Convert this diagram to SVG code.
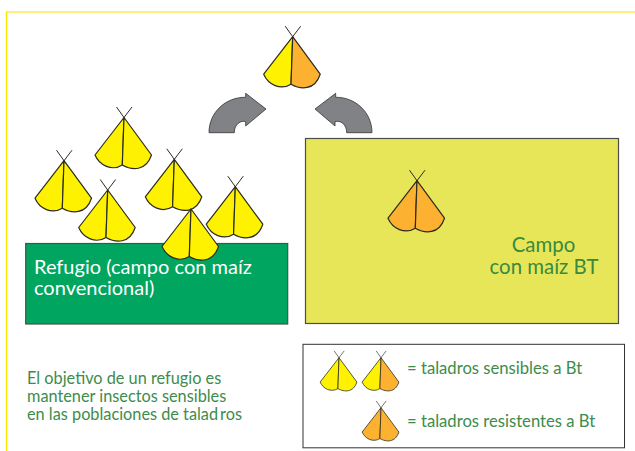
<svg xmlns="http://www.w3.org/2000/svg" width="635" height="451" viewBox="0 0 635 451">
<style>
.t{font-family:"Lato","Open Sans","Liberation Sans",sans-serif;fill:#3d8c4b}
.y{fill:#fff200}.o{fill:#fdb131}
.w{stroke:#2b2b20;stroke-width:1.2;stroke-linejoin:round}
.a{fill:none;stroke:#2b2b20;stroke-width:1}
.arr{fill:#808285;stroke:#333;stroke-width:.8;stroke-linejoin:miter}
.box{stroke:#4d4d4d;stroke-width:1.2}
</style>
<defs>
<path id="lw" d="M0,0L-29,37.500C-24.500,48 -12,54 -1.700,47.500Z"/>
<path id="rw" d="M0,0L27.500,37.500C22,54 8,53 -1.700,47.500Z"/>
<path id="ant" d="M0,0L-7.500,-10.500M0,0L8,-10.500"/>
</defs>
<rect width="635" height="451" fill="#fff"/>
<path d="M6,12H635" fill="none" stroke="#ffe94d" stroke-width="1.5"/>
<path d="M6.500,12V451" fill="none" stroke="#ffe600" stroke-width="1.500"/>
<g id="refugio"><rect class="box" x="25.700" y="243.500" width="262" height="80.500" fill="#00a65f"/>
<text class="t" style="fill:#fff" font-size="20"><tspan x="34" y="273.500">Refugio (campo con maíz</tspan><tspan x="34" y="295">convencional)</tspan></text></g>
<g id="campo-bt"><rect class="box" x="305.500" y="138.500" width="313" height="185" fill="#e7e659"/>
<text class="t" style="fill:#3a8a3e" font-size="20.400" text-anchor="middle"><tspan x="543.500" y="252">Campo</tspan><tspan x="544" y="274">con maíz BT</tspan></text></g>
<g id="connectors">
<path class="arr" d="M209,132.700C209,112 226,97 245.700,97.300V93.300L266,109L245.700,126V121.700C241,120 234.300,124 234.300,132.700Z"/>
<path class="arr" d="M372,132.700C372,112 355,97 335.700,97.300V93.300L315,109L335,126V121.700C340,120 346.700,124 346.700,132.700Z"/>
</g>
<g id="moth-top" transform="translate(292.700,36.700)"><use href="#lw" class="y w"/><use href="#rw" class="o w"/><use href="#ant" class="a"/></g>
<g id="moth-1" transform="translate(124,117.500)"><use href="#lw" class="y w"/><use href="#rw" class="y w"/><use href="#ant" class="a"/></g>
<g id="moth-2" transform="translate(64,160.700)"><use href="#lw" class="y w"/><use href="#rw" class="y w"/><use href="#ant" class="a"/></g>
<g id="moth-3" transform="translate(107.700,190)"><use href="#lw" class="y w"/><use href="#rw" class="y w"/><use href="#ant" class="a"/></g>
<g id="moth-4" transform="translate(174.300,159.300)"><use href="#lw" class="y w"/><use href="#rw" class="y w"/><use href="#ant" class="a"/></g>
<g id="moth-5" transform="translate(235.300,186.700)"><use href="#lw" class="y w"/><use href="#rw" class="y w"/><use href="#ant" class="a"/></g>
<g id="moth-6" transform="translate(191,209)"><use href="#lw" class="y w"/><use href="#rw" class="y w"/></g>
<g id="moth-bt" transform="translate(417,180.700)"><use href="#lw" class="o w"/><use href="#rw" class="o w"/><use href="#ant" class="a"/></g>
<text id="nota" class="t" font-size="16.300"><tspan x="27" y="384">El objetivo de un refugio es</tspan><tspan x="27" y="402">mantener insectos sensibles</tspan><tspan x="27" y="420">en las poblaciones de talad<tspan dx="2">ros</tspan></tspan></text>
<g id="leyenda"><rect x="303" y="344.300" width="321.500" height="103.500" fill="#fff" stroke="#333" stroke-width="1"/>
<g id="ley-1" transform="translate(339,357.700) scale(.65)"><use href="#lw" class="y w"/><use href="#rw" class="y w"/><use href="#ant" class="a"/></g>
<g id="ley-2" transform="translate(381,357.700) scale(.65)"><use href="#lw" class="y w"/><use href="#rw" class="o w"/><use href="#ant" class="a"/></g>
<g id="ley-3" transform="translate(381,407.700) scale(.65)"><use href="#lw" class="o w"/><use href="#rw" class="o w"/><use href="#ant" class="a"/></g>
<text class="t" font-size="16.650" x="407" y="374">= taladros sensibles a Bt</text>
<text class="t" font-size="16.650" x="407" y="427">= taladros resistentes a Bt</text></g>
</svg>
